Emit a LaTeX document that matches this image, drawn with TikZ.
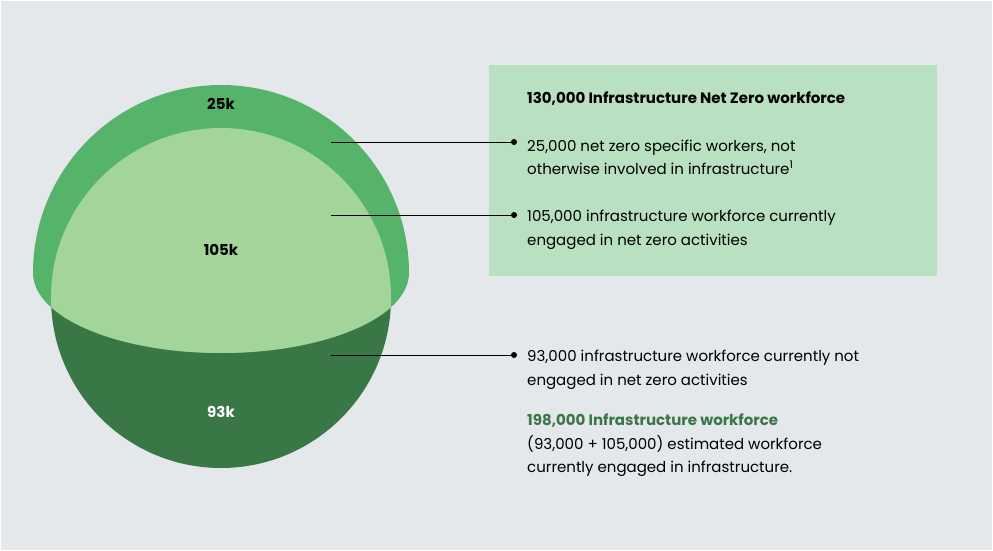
\documentclass[tikz,border=0pt]{standalone}
\usepackage{fontspec}
\setmainfont{Poppins}
\definecolor{bg}{HTML}{E4E8EB}
\definecolor{dark}{HTML}{3A7747}
\definecolor{mid}{HTML}{56B46A}
\definecolor{light}{HTML}{A3D59A}
\definecolor{boxc}{HTML}{B9E0C1}
\begin{document}
\begin{tikzpicture}[x=1pt,y=-1pt,
  txt/.style={anchor=base west,inner sep=0pt,font=\fontsize{15}{18}\selectfont},
  btxt/.style={txt,font=\fontsize{15}{18}\selectfont\bfseries},
  lbl/.style={font=\fontsize{15}{18}\selectfont\bfseries},
  dot/.style={circle,fill=black,inner sep=0pt,minimum size=6pt},
  lead/.style={draw=black,line width=0.7pt}]
\useasboundingbox (0,0) rectangle (993,551);
\fill[white] (0,0) rectangle (993,551);
\fill[bg] (1,1) rectangle (992,550);
% dark circle
\fill[dark] (221,298) circle[radius=170];
% mid dome
\begin{scope}
\clip (0,0) rectangle (993,273);
\fill[mid] (221,273) circle[radius=188];
\end{scope}
\fill[mid] (221,273) ellipse[x radius=188,y radius=80];
% light region
\begin{scope}
\clip (221,298) circle[radius=170];
\fill[light] (0,0) rectangle (993,273);
\fill[light] (221,273) ellipse[x radius=188,y radius=80];
\end{scope}
% box
\fill[boxc] (489,65) rectangle (937,276);
% labels
\node[lbl] (l25) at (221,104) {25k};
\node[lbl] (l105) at (221,250) {105k};
\node[lbl,text=white] (l93) at (221,412) {93k};
% texts
\node[btxt] (t0) at (527,103) {130,000 Infrastructure Net Zero workforce};
\node[txt] (t1a) at (527,151) {25,000 net zero specific workers, not};
\node[txt] (t1b) at (527,174) {otherwise involved in infrastructure\textsuperscript{1}};
\node[txt] (t2a) at (527,221) {105,000 infrastructure workforce currently};
\node[txt] (t2b) at (527,245) {engaged in net zero activities};
\node[txt] (t3a) at (527,361) {93,000 infrastructure workforce currently not};
\node[txt] (t3b) at (527,385) {engaged in net zero activities};
\node[btxt,text=dark] (t4) at (527,425) {198,000 Infrastructure workforce};
\node[txt] (t5a) at (527,449) {(93,000 + 105,000) estimated workforce};
\node[txt] (t5b) at (527,472) {currently engaged in infrastructure.};
% leaders
\coordinate (s1) at (331,142);
\coordinate (s2) at (331,215);
\coordinate (s3) at (331,355);
\node[dot] (d1) at (514,142) {};
\node[dot] (d2) at (514,215) {};
\node[dot] (d3) at (514,355) {};
\draw[lead] (s1) -- (d1);
\draw[lead] (s2) -- (d2);
\draw[lead] (s3) -- (d3);
\end{tikzpicture}
\end{document}
